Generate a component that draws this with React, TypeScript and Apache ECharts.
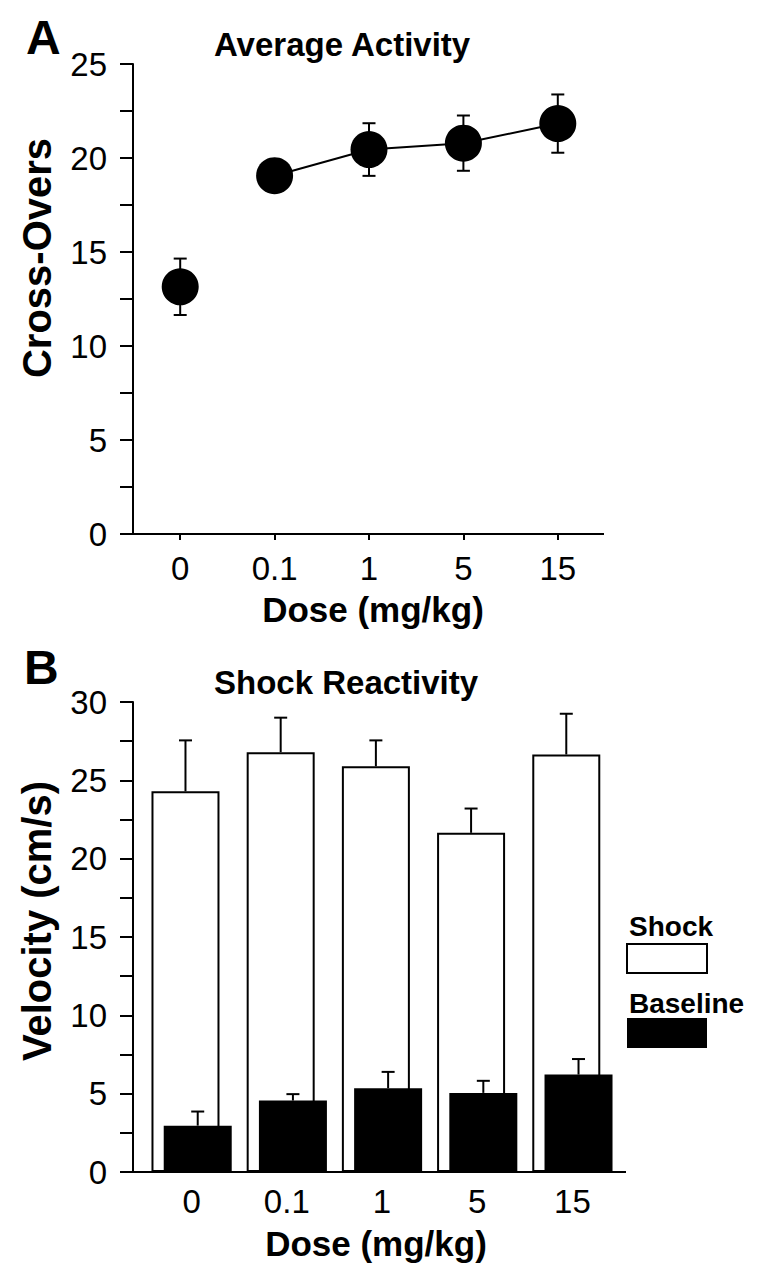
import React, { useEffect, useRef } from "react";
import * as echarts from "echarts";

const doses = ["0", "0.1", "1", "5", "15"];

const activityMean = [13.15, 19.06, 20.45, 20.79, 21.83];
const activitySem = [1.5, 0.6, 1.4, 1.47, 1.55];
const activityLinked = [false, true, true, true, true];
const activityTicks = [0, 5, 10, 15, 20, 25];

const shockMean = [24.3, 26.8, 25.9, 21.65, 26.65];
const shockSem = [3.25, 2.2, 1.65, 1.55, 2.6];
const baselineMean = [2.96, 4.56, 5.35, 5.05, 6.22];
const baselineSem = [0.9, 0.41, 1.04, 0.77, 0.99];
const velocityTicks = [0, 5, 10, 15, 20, 25, 30];

const FONT = '"Liberation Sans", Arial, Helvetica, sans-serif';
const BAR_W = 68;
const BAR_GAP = -0.82;
const TICK_FS = 33;

function errorRender(offsetPx: number, both: boolean) {
  return (params: any, api: any) => {
    const i = api.value(0);
    const m = api.value(1);
    const e = api.value(2);
    const c = api.coord([i, m]);
    const top = api.coord([i, m + e]);
    const bot = api.coord([i, m - e]);
    const x = c[0] + offsetPx;
    const cap = 6.5;
    const st = { stroke: "#000", lineWidth: 2 };
    const children: any[] = [
      { type: "line", shape: { x1: x, y1: both ? bot[1] : c[1], x2: x, y2: top[1] }, style: st },
      { type: "line", shape: { x1: x - cap, y1: top[1], x2: x + cap, y2: top[1] }, style: st },
    ];
    if (both) {
      children.push({ type: "line", shape: { x1: x - cap, y1: bot[1], x2: x + cap, y2: bot[1] }, style: st });
    }
    return { type: "group", children };
  };
}

export default function App() {
  const ref = useRef<HTMLDivElement>(null);
  useEffect(() => {
    if (!ref.current) return;
    const chart = echarts.init(ref.current, null, { renderer: "svg" });
    const half = (BAR_W + BAR_GAP * BAR_W) / 2;

    const yAxisCommon = (ticks: number[]) => ({
      type: "value",
      min: 0,
      max: ticks[ticks.length - 1],
      interval: 2.5,
      axisLine: { show: true, lineStyle: { color: "#000", width: 2 } },
      axisTick: { show: true, length: 13, lineStyle: { color: "#000", width: 2 } },
      axisLabel: {
        formatter: (v: number) => (ticks.includes(v) ? String(v) : ""),
        fontSize: TICK_FS,
        color: "#000",
        fontFamily: FONT,
        margin: 26,
      },
      splitLine: { show: false },
    });

    const option: any = {
      animation: false,
      backgroundColor: "#fff",
      grid: [
        { left: 133, top: 64, width: 472, height: 470 },
        { left: 144, top: 702, width: 476, height: 470 },
      ],
      xAxis: [
        {
          gridIndex: 0,
          type: "category",
          data: doses,
          axisLine: { show: false },
          axisTick: { show: true, alignWithLabel: true, length: 6, lineStyle: { color: "#000", width: 2 } },
          axisLabel: { fontSize: TICK_FS, color: "#000", fontFamily: FONT, margin: 18 },
        },
        {
          gridIndex: 1,
          type: "category",
          data: doses,
          axisLine: { show: false },
          axisTick: { show: false },
          axisLabel: { fontSize: TICK_FS, color: "#000", fontFamily: FONT, margin: 13 },
        },
      ],
      yAxis: [
        { gridIndex: 0, ...yAxisCommon(activityTicks) },
        { gridIndex: 1, offset: 11, ...yAxisCommon(velocityTicks) },
      ],
      series: [
        {
          type: "custom",
          xAxisIndex: 0,
          yAxisIndex: 0,
          renderItem: errorRender(0, true),
          data: doses.map((_, i) => [i, activityMean[i], activitySem[i]]),
          z: 1,
        },
        {
          type: "line",
          xAxisIndex: 0,
          yAxisIndex: 0,
          data: activityMean.map((v, i) => (activityLinked[i] ? v : "-")),
          showSymbol: false,
          symbol: "none",
          connectNulls: false,
          lineStyle: { color: "#000", width: 2 },
          z: 2,
        },
        {
          type: "scatter",
          xAxisIndex: 0,
          yAxisIndex: 0,
          data: activityMean,
          symbol: "circle",
          symbolSize: 37,
          itemStyle: { color: "#000", opacity: 1 },
          z: 3,
        },
        {
          name: "Shock",
          type: "bar",
          xAxisIndex: 1,
          yAxisIndex: 1,
          data: shockMean,
          barWidth: BAR_W,
          barGap: `${BAR_GAP * 100}%`,
          itemStyle: { color: "#fff", borderColor: "#000", borderWidth: 2 },
          z: 2,
        },
        {
          name: "Baseline",
          type: "bar",
          xAxisIndex: 1,
          yAxisIndex: 1,
          data: baselineMean,
          barWidth: BAR_W,
          barGap: `${BAR_GAP * 100}%`,
          itemStyle: { color: "#000" },
          z: 2,
        },
        {
          type: "custom",
          xAxisIndex: 1,
          yAxisIndex: 1,
          renderItem: errorRender(-half, false),
          data: doses.map((_, i) => [i, shockMean[i], shockSem[i]]),
          z: 3,
        },
        {
          type: "custom",
          xAxisIndex: 1,
          yAxisIndex: 1,
          renderItem: errorRender(half, false),
          data: doses.map((_, i) => [i, baselineMean[i], baselineSem[i]]),
          z: 3,
        },
      ],
      graphic: [
        { type: "line", shape: { x1: 120, y1: 534, x2: 604, y2: 534 }, style: { stroke: "#000", lineWidth: 2 } },
        { type: "line", shape: { x1: 120, y1: 1172, x2: 626, y2: 1172 }, style: { stroke: "#000", lineWidth: 2 } },
        { type: "text", x: 26, y: 37, style: { text: "A", font: `bold 48px ${FONT}`, fill: "#000", align: "left", verticalAlign: "middle" } },
        { type: "text", x: 24, y: 667, style: { text: "B", font: `bold 48px ${FONT}`, fill: "#000", align: "left", verticalAlign: "middle" } },
        { type: "text", x: 214, y: 44, style: { text: "Average Activity", font: `bold 33px ${FONT}`, fill: "#000", align: "left", verticalAlign: "middle" } },
        { type: "text", x: 214, y: 682, style: { text: "Shock Reactivity", font: `bold 33px ${FONT}`, fill: "#000", align: "left", verticalAlign: "middle" } },
        { type: "text", x: 37, y: 258, rotation: Math.PI / 2, style: { text: "Cross-Overs", font: `bold 40px ${FONT}`, fill: "#000", align: "center", verticalAlign: "middle" } },
        { type: "text", x: 37, y: 921, rotation: Math.PI / 2, style: { text: "Velocity (cm/s)", font: `bold 40px ${FONT}`, fill: "#000", align: "center", verticalAlign: "middle" } },
        { type: "text", x: 373, y: 609, style: { text: "Dose (mg/kg)", font: `bold 35px ${FONT}`, fill: "#000", align: "center", verticalAlign: "middle" } },
        { type: "text", x: 376, y: 1243, style: { text: "Dose (mg/kg)", font: `bold 35px ${FONT}`, fill: "#000", align: "center", verticalAlign: "middle" } },
        { type: "text", x: 629, y: 926, style: { text: "Shock", font: `bold 28px ${FONT}`, fill: "#000", align: "left", verticalAlign: "middle" } },
        { type: "rect", shape: { x: 627, y: 944, width: 80, height: 29 }, style: { fill: "#fff", stroke: "#000", lineWidth: 2 } },
        { type: "text", x: 629, y: 1003, style: { text: "Baseline", font: `bold 28px ${FONT}`, fill: "#000", align: "left", verticalAlign: "middle" } },
        { type: "rect", shape: { x: 627, y: 1018, width: 80, height: 30 }, style: { fill: "#000" } },
      ],
    };
    chart.setOption(option);
    return () => chart.dispose();
  }, []);
  return <div ref={ref} style={{ position: "absolute", left: 0, top: 0, width: 759, height: 1275 }} />;
}
